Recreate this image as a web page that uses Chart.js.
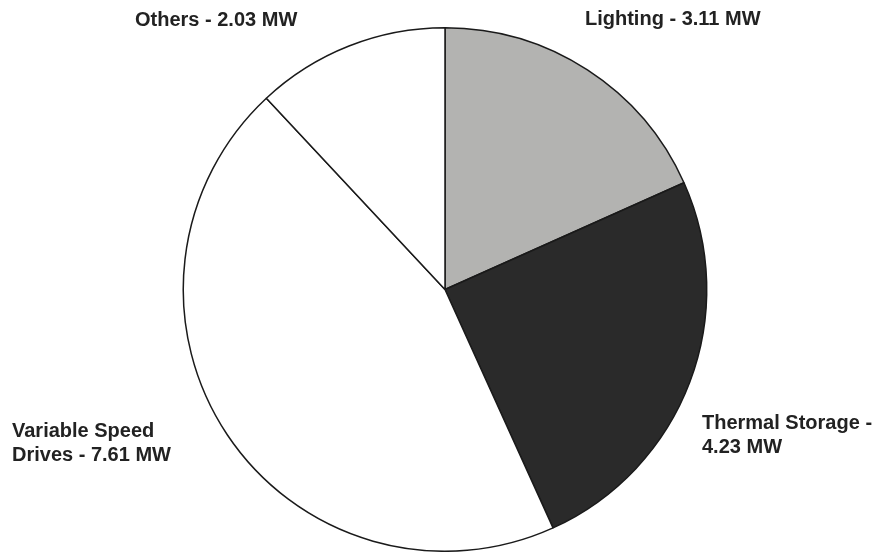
<!DOCTYPE html>
<html>
<head>
<meta charset="utf-8">
<script src="https://cdn.jsdelivr.net/npm/chart.js@4.4.0/dist/chart.umd.min.js"></script>
<style>
    html, body { margin: 0; padding: 0; background: #fff; }
    #wrap { width: 878px; height: 552px; }
</style>
</head>
<body>
<div id="wrap"><canvas id="loadPie" width="878" height="552"></canvas></div>
<script>
    // Demand reduction by measure (MW)
    const categories = ['Lighting', 'Thermal Storage', 'Variable Speed Drives', 'Others'];
    const demandMW = [3.11, 4.23, 7.61, 2.03];
    const sliceColors = ['#b3b3b1', '#2a2a2a', '#ffffff', '#ffffff'];

    // Label text, split into lines as in the original
    const labelLines = [
        ['Lighting - 3.11 MW'],
        ['Thermal Storage -', '4.23 MW'],
        ['Variable Speed', 'Drives - 7.61 MW'],
        ['Others - 2.03 MW']
    ];

    // where each label sits (left x, first baseline)
    const labelPos = [
        { x: 585, y: 25 },
        { x: 702, y: 429 },
        { x: 12, y: 437 },
        { x: 135, y: 26 }
    ];

    const sliceLabels = {
        id: 'sliceLabels',
        afterDraw(chart) {
            const c = chart.ctx;
            c.save();
            c.fillStyle = '#222';
            c.font = 'bold 20px "Liberation Sans", Arial, sans-serif';
            c.textAlign = 'left';
            c.textBaseline = 'alphabetic';
            labelLines.forEach((lines, i) => {
                lines.forEach((t, j) => {
                    c.fillText(t, labelPos[i].x, labelPos[i].y + j * 24);
                });
            });
            c.restore();
        }
    };

    const ctx = document.getElementById('loadPie').getContext('2d');
    new Chart(ctx, {
        type: 'pie',
        data: {
            labels: categories,
            datasets: [{
                data: demandMW,
                backgroundColor: sliceColors,
                borderColor: '#1a1a1a',
                borderWidth: 1.5
            }]
        },
        options: {
            responsive: false,
            animation: false,
            layout: {
                padding: { top: 27, bottom: 0, left: 182, right: 170 }
            },
            plugins: {
                legend: { display: false },
                tooltip: { enabled: false }
            }
        },
        plugins: [sliceLabels]
    });
</script>
</body>
</html>
